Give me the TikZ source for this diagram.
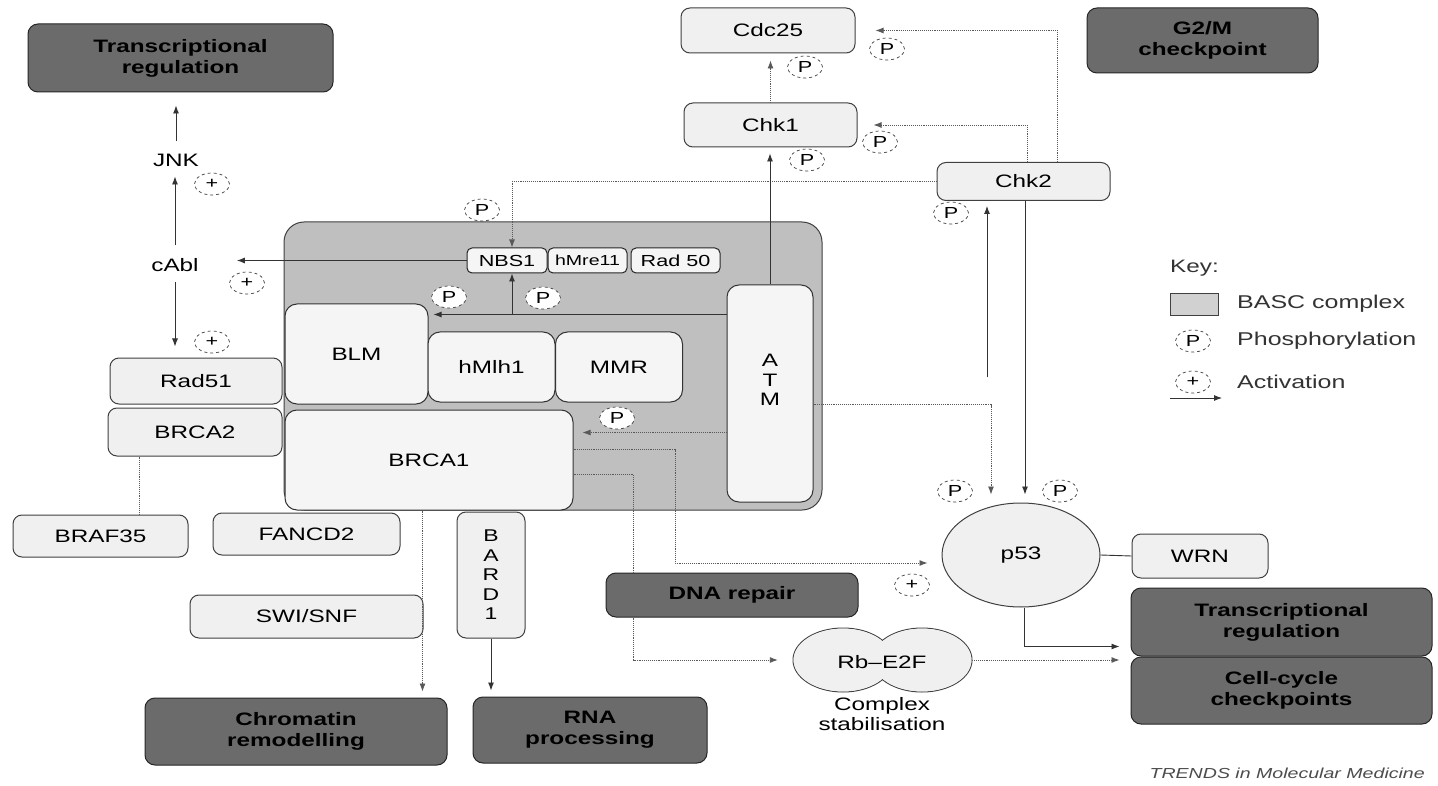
\documentclass[tikz,border=0pt]{standalone}
\usepackage{fontspec}
\setmainfont[FakeStretch=1.35]{Liberation Sans}
\usetikzlibrary{arrows.meta,calc,shapes.geometric}
\begin{document}
\begin{tikzpicture}[x=1pt,y=-1pt,
  lbox/.style={draw=black!75,line width=1pt,fill=black!6,rounded corners=9pt,inner sep=0pt,font=\fontsize{18}{20}\selectfont,align=center},
  dbox/.style={draw=black!85,line width=1pt,fill=black!58,rounded corners=10pt,inner sep=0pt,font=\bfseries\fontsize{18}{21}\selectfont,align=center},
  ibox/.style={draw=black!80,line width=1pt,fill=black!4,rounded corners=12pt,inner sep=0pt,font=\fontsize{18}{20}\selectfont},
  sbox/.style={draw=black!85,line width=1pt,fill=black!4,rounded corners=5pt,inner sep=0pt,minimum height=25pt,font=\fontsize{16}{17}\selectfont},
  conn/.style={line width=0.9pt,draw=black!80},
  dconn/.style={line width=0.9pt,draw=black!65,densely dotted},
  arr/.style={-{Latex[length=8pt,width=6pt]}},
  pc/.style={draw=black!75,dashed,line width=0.7pt,ellipse,minimum width=35pt,minimum height=22pt,inner sep=0pt,font=\fontsize{16}{16}\selectfont},
  lbl/.style={font=\fontsize{18}{20}\selectfont,inner sep=0pt,align=center},
]
\fill[white] (0,0) rectangle (1438,786);
\useasboundingbox (0,0) rectangle (1438,786);

% BASC complex background
\node[draw=black!75,line width=1pt,fill=black!25,rounded corners=20pt,minimum width=538pt,minimum height=288pt,inner sep=0pt] (cx) at (553,366) {};

% left side
\node[dbox,minimum width=305pt,minimum height=68pt] (trl) at (180.5,58) {Transcriptional\\regulation};
\node[lbl] (jnk) at (176,160) {JNK};
\node[lbl] (cabl) at (175,265) {cAbl};
\node[lbox,minimum width=172pt,minimum height=46pt] (rad51) at (196,381) {Rad51};
\node[lbox,minimum width=174pt,minimum height=48pt] (brca2) at (195,432) {BRCA2};
\node[lbox,minimum width=175pt,minimum height=42pt] (braf) at (100.5,536) {BRAF35};
\node[lbox,minimum width=187pt,minimum height=42pt] (fancd) at (306.5,534) {FANCD2};
\node[lbox,minimum width=233pt,minimum height=43pt] (swi) at (306.5,616.5) {SWI/SNF};
\node[dbox,minimum width=302pt,minimum height=67pt] (chrom) at (296,731.5) {Chromatin\\remodelling};
\node[lbox,minimum width=68pt,minimum height=126pt,font=\fontsize{17}{19.5}\selectfont] (bard) at (491,575) {B\\A\\R\\D\\1};
\node[dbox,minimum width=234pt,minimum height=66pt] (rna) at (590,730) {RNA\\processing};

% inside complex
\node[ibox,minimum width=143pt,minimum height=100pt] (blm) at (356.5,354) {BLM};
\node[ibox,minimum width=127pt,minimum height=70pt] (hmlh) at (491.5,367) {hMlh1};
\node[ibox,minimum width=127pt,minimum height=70pt] (mmr) at (619,367) {MMR};
\node[ibox,minimum width=288pt,minimum height=100pt] (brca1) at (429,460) {BRCA1};
\node[ibox,minimum width=86pt,minimum height=217pt] (atm) at (770,393.5) {};
\node[lbl,font=\fontsize{18}{19.5}\selectfont] (atmt) at (770,380) {A\\T\\M};
\node[sbox,minimum width=80pt] (nbs1) at (507,260.5) {NBS1};
\node[sbox,minimum width=79pt,font=\fontsize{14.5}{15}\selectfont] (hmre) at (587.5,260.5) {hMre11};
\node[sbox,minimum width=89pt] (rad50) at (675.5,260.5) {Rad 50};

% top right
\node[lbox,minimum width=174pt,minimum height=45pt] (cdc25) at (768,30.5) {Cdc25};
\node[lbox,minimum width=173pt,minimum height=44pt] (chk1) at (770.5,125) {Chk1};
\node[lbox,minimum width=173pt,minimum height=38pt] (chk2) at (1023.5,181.5) {Chk2};
\node[dbox,minimum width=231pt,minimum height=65pt] (g2m) at (1202.5,40.5) {G2/M\\checkpoint};

% right / bottom
\node[ellipse,draw=black!75,line width=1pt,fill=black!6,minimum width=158pt,minimum height=104pt,inner sep=0pt,font=\fontsize{18}{20}\selectfont] (p53) at (1021,555) {p53};
\node[lbox,minimum width=136pt,minimum height=44pt] (wrn) at (1200,556) {WRN};
\node[dbox,minimum width=301pt,minimum height=68pt] (trr) at (1281.5,622) {Transcriptional\\regulation};
\node[dbox,minimum width=301pt,minimum height=67pt] (ccc) at (1281.5,690.5) {Cell-cycle\\checkpoints};
\node[dbox,minimum width=252pt,minimum height=44pt] (dna) at (732,595) {DNA repair};

% Rb-E2F double ellipse
\node[inner sep=0pt,minimum width=179pt,minimum height=64pt] (rb) at (882.5,660) {};
\draw[line width=1pt,draw=black!75,fill=black!6] (843,660) ellipse [x radius=50,y radius=32];
\draw[line width=1pt,draw=black!75,fill=black!6] (922,660) ellipse [x radius=50,y radius=32];
\fill[black!6] (843,660) ellipse [x radius=49.4,y radius=31.4];
\fill[black!6] (922,660) ellipse [x radius=49.4,y radius=31.4];
\node[lbl] (rbt) at (882,662) {Rb–E2F};
\node[lbl] (cst) at (882,714) {Complex\\stabilisation};

% connectors
\draw[conn,arr,shorten <=13pt,shorten >=13pt] (jnk.north) -- (jnk.north |- trl.south);
\draw[conn,arr,shorten <=13pt,shorten >=10pt] (cabl.north) -- (cabl.north |- jnk.south);
\draw[conn,arr,shorten <=10pt,shorten >=11pt] (cabl.south) -- (cabl.south |- rad51.north);
\draw[conn,arr,shorten >=38pt] (nbs1.west) -- (nbs1.west -| cabl.east);
\draw[dconn,arr] (chk2.west) -| ([xshift=5pt]nbs1.north);
\draw[conn,arr,shorten >=6pt] (atm.north) -- (atm.north |- chk1.south);
\draw[dconn,arr,shorten >=7pt] (chk1.north) -- (chk1.north |- cdc25.south);
\draw[dconn,arr,shorten >=20pt] ([xshift=34pt]chk2.north) |- (cdc25.east);
\draw[dconn,arr,shorten >=16pt] ([xshift=3.5pt]chk2.north) |- (chk1.east);

\coordinate (a1) at ($(atm.north west)+(0,30)$);
\draw[conn,arr,shorten >=5pt] (a1) -- (a1 -| blm.east);
\draw[conn,arr] ([xshift=5pt]nbs1.south |- a1) -- ([xshift=5pt]nbs1.south);
\coordinate (a2) at ($(atm.north west)+(0,148)$);
\draw[dconn,arr,shorten >=9pt] (a2) -- (a2 -| brca1.east);
\coordinate (a3) at ($(atm.north east)+(0,120)$);
\draw[dconn,arr,shorten >=8pt] (a3) -| ([xshift=-30pt]p53.north);
\draw[conn,arr,shorten >=8pt] ([xshift=1.5pt]chk2.south) -- ([xshift=1.5pt]chk2.south |- p53.north);
\coordinate (u1) at (987,377);
\draw[conn,arr,shorten >=5pt] (u1) -- (u1 |- chk2.south);

\coordinate (b1) at ($(brca1.north east)+(0,40)$);
\coordinate (c1) at (675,563);
\draw[dconn,arr,shorten >=14pt] (b1) -| (c1) -- (c1 -| p53.west);
\coordinate (b2) at ($(brca1.north east)+(0,65)$);
\draw[dconn] (b2) -| ($(dna.north west)+(28,0)$);
\draw[dconn,arr,shorten >=15pt] ($(dna.south west)+(28,0)$) |- (rb.west);
\draw[dconn,arr,shorten >=11pt] (rb.east) -- (rb.east -| ccc.west);
\draw[conn,arr,shorten >=11pt] ([xshift=3pt]p53.south) |- ($(trr.south west)+(0,-10)$);
\draw[conn] (p53.east) -- (wrn.west);
\coordinate (d1) at ($(brca2.south west)+(32,0)$);
\draw[dconn] (d1) -- (d1 |- braf.north);
\coordinate (d2) at ($(brca1.south west)+(138,0)$);
\draw[dconn,arr,shorten >=6pt] (d2) -- (d2 |- chrom.north);
\draw[conn,arr,shorten >=6pt] (bard.south) -- (bard.south |- rna.north);

% phosphorylation / activation marks
\node[pc] (p1) at (805,67) {P};
\node[pc] (p2) at (887,49) {P};
\node[pc] (p3) at (880,142) {P};
\node[pc] (p4) at (807,160) {P};
\node[pc] (p5) at (482,210) {P};
\node[pc,fill=white] (p6) at (449,297) {P};
\node[pc,fill=white] (p7) at (543,298) {P};
\node[pc,fill=white] (p8) at (617,418) {P};
\node[pc] (p9) at (951,213) {P};
\node[pc] (p10) at (955,491) {P};
\node[pc] (p11) at (1060,491) {P};
\node[pc] (m1) at (212,184) {+};
\node[pc] (m2) at (247,283) {+};
\node[pc] (m3) at (212,342) {+};
\node[pc] (m4) at (912,585) {+};

% key
\node[lbl,anchor=west,text=black!80] (key) at (1170,268) {Key:};
\node[draw=black!75,fill=black!18,minimum width=48pt,minimum height=22pt,inner sep=0pt] (ksw) at (1194,304) {};
\node[lbl,anchor=west,text=black!80,font=\fontsize{18.5}{20}\selectfont] (k1) at (1237,304) {BASC complex};
\node[pc] (kp) at (1193,341) {P};
\node[lbl,anchor=west,text=black!80,font=\fontsize{18.5}{20}\selectfont] (k2) at (1237,341) {Phosphorylation};
\node[pc] (ka) at (1193,382) {+};
\node[lbl,anchor=west,text=black!80,font=\fontsize{18.5}{20}\selectfont] (k3) at (1237,382) {Activation};
\coordinate (kx1) at (1170,398);
\coordinate (kx2) at (1222,398);
\draw[conn,arr] (kx1) -- (kx2);

\node[anchor=east,inner sep=0pt,font=\itshape\fontsize{14.5}{15}\selectfont,text=black!70] (trends) at (1425,773) {TRENDS in Molecular Medicine};
\end{tikzpicture}
\end{document}
